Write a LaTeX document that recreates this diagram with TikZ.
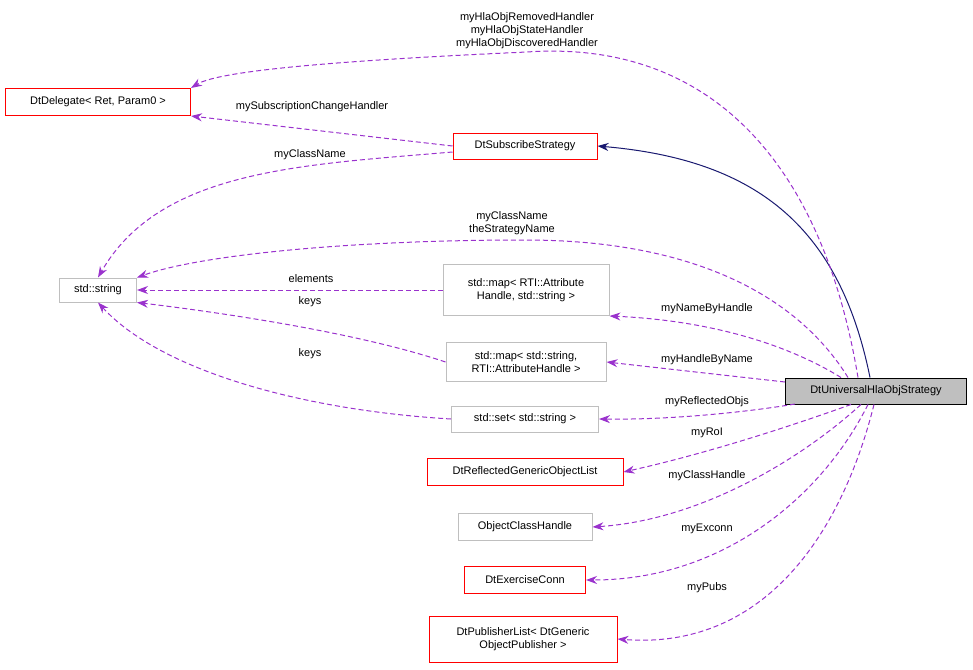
\documentclass[tikz,border=0pt]{standalone}
\usepackage{fontspec}
\setmainfont{Liberation Sans}
\usetikzlibrary{positioning,arrows.meta}
\definecolor{dxPurple}{RGB}{154,50,205}
\definecolor{dxNavy}{RGB}{25,25,112}
\definecolor{dxRed}{RGB}{255,0,0}
\definecolor{dxGray}{RGB}{191,191,191}
\tikzset{
  cls/.style={draw=dxRed, line width=1pt, fill=white, inner sep=3pt, font=\fontsize{11}{13}\selectfont, align=center},
  ext/.style={cls, draw=dxGray},
  use/.style={dxPurple, line width=1pt, dash pattern=on 5pt off 3pt, -{Stealth[length=11pt,width=8pt]}},
  inh/.style={dxNavy, line width=1pt, -{Stealth[length=11pt,width=8pt]}},
  lbl/.style={text=black, font=\fontsize{11}{13}\selectfont, align=center, inner sep=1pt}
}
\begin{document}
\begin{tikzpicture}[x=1pt,y=-1pt]
  \useasboundingbox (0,0) rectangle (973,669);
  % classes
  \node[cls, minimum width=185, minimum height=27] (deleg) at (98,102) {DtDelegate< Ret, Param0 >};
  \node[cls, minimum width=144, minimum height=26] (subs) at (525,146) {DtSubscribeStrategy};
  \node[ext, minimum width=77, minimum height=24] (str) at (98,290) {std::string};
  \node[ext, minimum width=166, minimum height=51] (nmap) at (526,290) {std::map< RTI::Attribute\\Handle, std::string >};
  \node[ext, minimum width=160, minimum height=39] (hmap) at (526,362) {std::map< std::string,\\ RTI::AttributeHandle >};
  \node[ext, minimum width=147, minimum height=26] (sset) at (525,419) {std::set< std::string >};
  \node[cls, minimum width=196, minimum height=27] (refl) at (525,472) {DtReflectedGenericObjectList};
  \node[ext, minimum width=134, minimum height=27] (och) at (525,527) {ObjectClassHandle};
  \node[cls, minimum width=121, minimum height=27] (exc) at (525,580) {DtExerciseConn};
  \node[cls, minimum width=188, minimum height=46] (pub) at (523,639) {DtPublisherList< DtGeneric\\ObjectPublisher >};
  \node[cls, draw=black, fill=dxGray, minimum width=181, minimum height=26] (univ) at (876,391) {DtUniversalHlaObjStrategy};
  % inheritance
  \draw[inh] (univ.north) ++(-6,0) coordinate (u0) .. controls (840,230) and (760,160) .. (subs.east);
  % usage
  \draw[use] (univ.north) ++(-18,0) coordinate (u1) .. controls (820,150) and (700,40) .. (527,52) .. controls (350,60) and (220,70) .. (deleg.north east);
  \node[lbl] (l1) at (527,31) {myHlaObjRemovedHandler\\myHlaObjStateHandler\\myHlaObjDiscoveredHandler};
  \draw[use] (subs.west) -- (deleg.south east);
  \node[lbl] (l2) at (312,107) {mySubscriptionChangeHandler};
  \draw[use] (subs.west) ++(0,6) coordinate (s1) .. controls (300,165) and (160,170) .. (str.north);
  \node[lbl] (l3) at (310,155) {myClassName};
  \draw[use] (univ.north) ++(-28,0) coordinate (u2) .. controls (800,300) and (700,240) .. (525,240) .. controls (350,240) and (200,255) .. (str.north east);
  \node[lbl] (l4) at (512,223) {myClassName\\theStrategyName};
  \draw[use] (nmap.west) -- (str.east);
  \node[lbl] (l5) at (311,279) {elements};
  \draw[use] (hmap.west) .. controls (350,330) and (200,310) .. (str.south east);
  \node[lbl] (l6) at (310,302) {keys};
  \draw[use] (sset.west) .. controls (300,410) and (160,370) .. (str.south);
  \node[lbl] (l7) at (310,354) {keys};
  \draw[use] (univ.north) ++(-35,0) coordinate (u3) .. controls (780,340) and (700,320) .. (nmap.south east);
  \node[lbl] (l8) at (707,309) {myNameByHandle};
  \draw[use] (univ.west) ++(0,-9) coordinate (u4) -- (hmap.east);
  \node[lbl] (l9) at (707,360) {myHandleByName};
  \draw[use] (univ.west) ++(10,13) coordinate (u5) .. controls (760,410) and (680,420) .. (sset.east);
  \node[lbl] (l10) at (707,402) {myReflectedObjs};
  \draw[use] (univ.south) ++(-25,0) coordinate (u6) .. controls (780,430) and (700,455) .. (refl.east);
  \node[lbl] (l11) at (707,433) {myRoI};
  \draw[use] (univ.south) ++(-15,0) coordinate (u7) .. controls (800,460) and (700,520) .. (och.east);
  \node[lbl] (l12) at (707,476) {myClassHandle};
  \draw[use] (univ.south) ++(-8,0) coordinate (u8) .. controls (820,500) and (720,580) .. (exc.east);
  \node[lbl] (l13) at (707,529) {myExconn};
  \draw[use] (univ.south) ++(-2,0) coordinate (u9) .. controls (840,540) and (760,650) .. (pub.east);
  \node[lbl] (l14) at (707,588) {myPubs};
\end{tikzpicture}
\end{document}
